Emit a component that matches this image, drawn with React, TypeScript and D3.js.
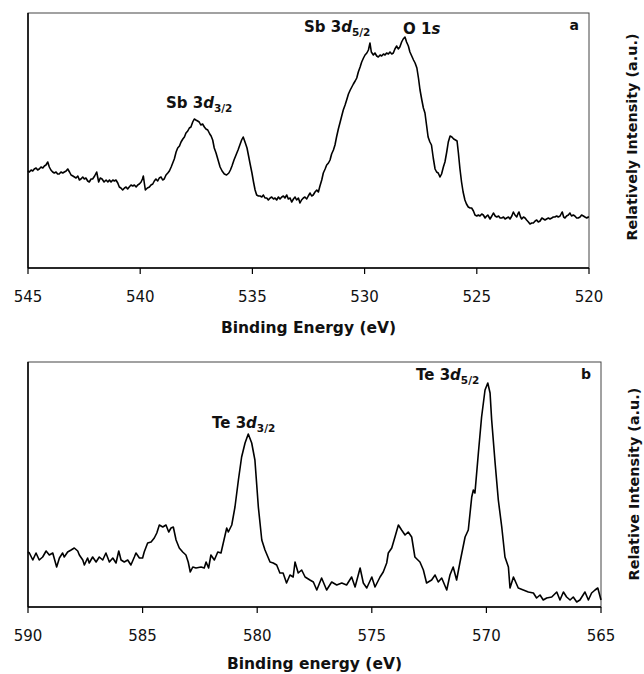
import React from "react";
import * as d3 from "d3";

// ---------- DATA ----------
// Panel a: Sb 3d / O 1s region (binding energy eV, intensity a.u.)
const sbSpectrum: [number, number][] = [
  [545.00, 97],[544.94, 96],[544.86, 98],[544.79, 97],[544.72, 99],[544.64, 100],[544.57, 98],[544.50, 99],[544.42, 101],[544.34, 100],[544.27, 102],[544.20, 103],[544.12, 106],[544.05, 101],[543.98, 98],[543.90, 96],[543.83, 95],[543.75, 96],[543.68, 94],[543.61, 94],[543.53, 96],[543.45, 95],[543.38, 96],[543.30, 97],[543.23, 99],[543.15, 96],[543.08, 93],[543.00, 92],[542.93, 91],[542.86, 90],[542.78, 92],[542.71, 88],[542.64, 89],[542.56, 91],[542.49, 89],[542.42, 90],[542.34, 87],[542.27, 86],[542.19, 89],[542.12, 89],[542.03, 92],[541.94, 96],[541.85, 86],[541.78, 90],[541.70, 89],[541.61, 86],[541.52, 88],[541.44, 86],[541.37, 88],[541.30, 86],[541.22, 88],[541.15, 87],[541.08, 88],[541.00, 85],[540.93, 81],[540.86, 80],[540.78, 78],[540.70, 80],[540.63, 81],[540.56, 79],[540.49, 81],[540.41, 83],[540.33, 82],[540.26, 83],[540.18, 81],[540.11, 83],[540.04, 84],[539.96, 86],[539.90, 89],[539.86, 92],[539.81, 84],[539.77, 78],[539.68, 80],[539.59, 81],[539.52, 83],[539.44, 84],[539.37, 87],[539.30, 89],[539.22, 87],[539.15, 90],[539.07, 91],[539.00, 88],[538.93, 89],[538.85, 93],[538.77, 95],[538.70, 97],[538.62, 101],[538.55, 105],[538.48, 109],[538.40, 116],[538.33, 120],[538.25, 122],[538.18, 126],[538.10, 129],[538.03, 131],[537.96, 135],[537.88, 137],[537.81, 140],[537.74, 141],[537.66, 146],[537.59, 149],[537.52, 148],[537.44, 147],[537.37, 146],[537.30, 143],[537.22, 144],[537.14, 141],[537.07, 139],[536.99, 138],[536.90, 134],[536.84, 132],[536.77, 128],[536.70, 120],[536.62, 115],[536.53, 108],[536.44, 101],[536.35, 97],[536.25, 94],[536.15, 93],[536.05, 95],[535.98, 98],[535.91, 102],[535.82, 108],[535.73, 113],[535.64, 118],[535.56, 123],[535.48, 128],[535.41, 131],[535.33, 126],[535.24, 120],[535.17, 112],[535.11, 105],[535.02, 95],[534.95, 86],[534.88, 78],[534.81, 73],[534.73, 72],[534.66, 72],[534.58, 71],[534.51, 73],[534.44, 70],[534.36, 70],[534.29, 68],[534.21, 70],[534.14, 71],[534.06, 69],[533.99, 70],[533.92, 68],[533.84, 71],[533.77, 69],[533.69, 71],[533.62, 72],[533.55, 70],[533.47, 73],[533.40, 69],[533.32, 70],[533.25, 66],[533.17, 69],[533.10, 71],[533.03, 68],[532.95, 70],[532.88, 65],[532.81, 68],[532.73, 70],[532.66, 71],[532.58, 69],[532.51, 72],[532.43, 75],[532.36, 72],[532.29, 73],[532.21, 76],[532.13, 78],[532.06, 76],[531.99, 82],[531.91, 88],[531.84, 95],[531.76, 99],[531.69, 103],[531.61, 105],[531.54, 108],[531.47, 114],[531.39, 118],[531.32, 123],[531.25, 131],[531.17, 139],[531.10, 145],[531.02, 152],[530.95, 158],[530.87, 163],[530.80, 168],[530.72, 174],[530.64, 178],[530.57, 181],[530.50, 184],[530.42, 187],[530.35, 190],[530.28, 196],[530.20, 201],[530.13, 206],[530.05, 210],[529.98, 213],[529.90, 215],[529.83, 218],[529.76, 225],[529.70, 216],[529.61, 213],[529.54, 215],[529.46, 212],[529.39, 211],[529.31, 213],[529.24, 212],[529.16, 214],[529.09, 213],[529.02, 215],[528.94, 214],[528.87, 216],[528.79, 214],[528.72, 215],[528.65, 219],[528.57, 222],[528.50, 219],[528.43, 221],[528.35, 226],[528.28, 229],[528.20, 231],[528.13, 226],[528.05, 222],[527.98, 216],[527.90, 212],[527.82, 208],[527.75, 205],[527.67, 200],[527.60, 190],[527.53, 178],[527.45, 168],[527.38, 160],[527.31, 155],[527.24, 143],[527.17, 131],[527.09, 126],[527.02, 123],[526.94, 110],[526.86, 99],[526.79, 96],[526.72, 95],[526.64, 91],[526.57, 94],[526.49, 101],[526.42, 106],[526.34, 116],[526.27, 126],[526.19, 132],[526.11, 131],[526.03, 129],[525.95, 128],[525.88, 127],[525.82, 115],[525.75, 99],[525.68, 86],[525.61, 76],[525.53, 68],[525.46, 64],[525.38, 61],[525.30, 60],[525.23, 60],[525.15, 57],[525.08, 53],
  [525.00, 52],[524.93, 53],[524.86, 52],[524.78, 54],[524.71, 53],[524.63, 50],[524.56, 52],[524.51, 53],[524.41, 49],[524.33, 52],[524.26, 55],[524.18, 52],[524.11, 51],[524.03, 52],[523.96, 50],[523.89, 50],[523.81, 51],[523.74, 49],[523.67, 50],[523.59, 51],[523.52, 49],[523.44, 52],[523.37, 56],[523.30, 53],[523.22, 51],[523.17, 54],[523.12, 56],[523.05, 51],[523.00, 49],[522.92, 51],[522.85, 50],[522.78, 48],[522.70, 46],[522.63, 44],[522.55, 45],[522.48, 45],[522.40, 47],[522.33, 48],[522.26, 46],[522.18, 47],[522.10, 50],[522.03, 49],[521.96, 48],[521.89, 49],[521.81, 50],[521.74, 49],[521.66, 50],[521.59, 51],[521.52, 51],[521.44, 52],[521.37, 51],[521.29, 52],[521.22, 55],[521.19, 56],[521.13, 51],[521.07, 50],[521.00, 52],[520.92, 53],[520.85, 55],[520.78, 52],[520.70, 53],[520.63, 52],[520.55, 50],[520.48, 50],[520.40, 51],[520.33, 53],[520.25, 52],[520.18, 51],[520.10, 50],[520.03, 51],[520.00, 51],
];

// Panel b: Te 3d region
const teSpectrum: [number, number][] = [
  [590.00, 55],[589.94, 54],[589.79, 47],[589.65, 54],[589.51, 47],[589.36, 50],[589.21, 56],[589.07, 52],[588.92, 54],[588.75, 40],[588.63, 49],[588.49, 54],[588.42, 50],[588.27, 55],[588.12, 57],[587.98, 59],[587.83, 56],[587.76, 52],[587.61, 47],[587.54, 42],[587.40, 49],[587.33, 44],[587.18, 50],[587.03, 45],[586.89, 50],[586.74, 47],[586.60, 54],[586.45, 45],[586.30, 49],[586.16, 44],[586.04, 56],[585.94, 47],[585.80, 45],[585.65, 47],[585.51, 42],[585.36, 50],[585.29, 54],[585.14, 49],[585.00, 49],[584.93, 55],[584.78, 64],[584.63, 65],[584.49, 69],[584.38, 74],[584.27, 82],[584.12, 80],[583.98, 82],[583.86, 75],[583.76, 79],[583.66, 80],[583.54, 67],[583.40, 59],[583.25, 55],[583.11, 52],[583.01, 45],[582.92, 35],[582.81, 40],[582.67, 39],[582.45, 40],[582.31, 39],[582.23, 45],[582.12, 39],[582.02, 52],[581.87, 47],[581.72, 55],[581.58, 54],[581.48, 64],[581.33, 79],[581.26, 75],[581.11, 82],[580.97, 100],[580.82, 127],[580.68, 150],[580.53, 164],[580.39, 173],[580.24, 164],[580.10, 147],[579.95, 100],[579.80, 67],[579.66, 57],[579.44, 45],[579.30, 44],[579.15, 42],[579.01, 34],[578.87, 34],[578.72, 24],[578.57, 32],[578.43, 30],[578.35, 45],[578.21, 34],[578.06, 37],[577.91, 30],[577.70, 27],[577.55, 25],[577.40, 17],[577.19, 29],[576.97, 17],[576.75, 25],[576.53, 22],[576.31, 24],[576.10, 22],[575.88, 30],[575.73, 20],[575.51, 39],[575.37, 24],[575.22, 19],[575.00, 30],[574.86, 20],[574.64, 30],[574.50, 35],[574.35, 44],[574.28, 54],[574.13, 59],[573.99, 70],[573.84, 82],[573.70, 77],[573.55, 72],[573.41, 75],[573.26, 70],[573.12, 50],[572.90, 45],[572.75, 37],[572.61, 24],[572.39, 27],[572.24, 32],[572.10, 25],[571.95, 29],[571.73, 17],[571.59, 32],[571.45, 40],[571.30, 27],[571.15, 45],[570.93, 70],[570.79, 77],[570.64, 110],[570.57, 117],[570.50, 114],[570.35, 154],[570.21, 190],[570.06, 217],[569.94, 224],[569.84, 214],[569.77, 187],[569.62, 144],[569.48, 107],[569.33, 80],[569.19, 50],[569.04, 40],[568.97, 19],[568.82, 30],[568.61, 19],[568.39, 17],[568.17, 15],[567.95, 14],[567.81, 9],[567.66, 12],[567.52, 7],[567.37, 9],[567.15, 10],[566.93, 15],[566.79, 7],[566.64, 15],[566.50, 10],[566.35, 7],[566.21, 10],[566.06, 5],[565.92, 7],[565.70, 15],[565.55, 7],[565.41, 14],[565.26, 17],[565.14, 19],[565.00, 7],
];

const sbTicks = [545, 540, 535, 530, 525, 520];
const teTicks = [590, 585, 580, 575, 570, 565];

const FONT = "'DejaVu Sans', Verdana, sans-serif";

type Label = { x: number; y: number; main: string; italic: string; sub?: string };

function PeakLabel({ x, y, main, italic, sub }: Label) {
  return (
    <text x={x} y={y} fontFamily={FONT} fontWeight="bold" fontSize={15} fill="#111">
      {main}
      <tspan fontStyle="italic">{italic}</tspan>
      {sub ? <tspan fontSize={10.5} dy={4}>{sub}</tspan> : null}
    </text>
  );
}

function Panel({
  data, domain, yMax, left, right, top, bottom, ticks, xTitle, yTitle, letter, labels, titleY, tickY, yTitleX, yTitleY,
}: {
  data: [number, number][]; domain: [number, number]; yMax: number; left: number; right: number; top: number; bottom: number;
  ticks: number[]; xTitle: string; yTitle: string; letter: string; labels: Label[]; titleY: number; tickY: number; yTitleX: number; yTitleY: number;
}) {
  const x = d3.scaleLinear().domain(domain).range([left, right]);
  const y = d3.scaleLinear().domain([0, yMax]).range([bottom, top]);
  const line = d3.line<[number, number]>().x((d) => x(d[0])).y((d) => y(d[1]));
  return (
    <g>
      <rect x={left} y={top} width={right - left} height={bottom - top} fill="none" stroke="#444" strokeWidth={1} />
      <line x1={left} x2={left} y1={top} y2={bottom} stroke="#000" strokeWidth={1.5} />
      <line x1={left} x2={right} y1={bottom} y2={bottom} stroke="#000" strokeWidth={1.5} />
      {ticks.map((t) => (
        <g key={t}>
          <line x1={x(t)} x2={x(t)} y1={bottom} y2={bottom + 6} stroke="#000" strokeWidth={1.2} />
          <text x={x(t)} y={tickY} textAnchor="middle" fontFamily={FONT} fontSize={15} fill="#111">{t}</text>
        </g>
      ))}
      <path d={line(data) || ""} fill="none" stroke="#000" strokeWidth={1.6} strokeLinejoin="round" />
      {labels.map((l, i) => <PeakLabel key={i} {...l} />)}
      <text x={right - 10} y={top + 17} textAnchor="end" fontFamily={FONT} fontWeight="bold" fontSize={14} fill="#111">{letter}</text>
      <text x={(left + right) / 2} y={titleY} textAnchor="middle" fontFamily={FONT} fontWeight="bold" fontSize={15.5} fill="#111">{xTitle}</text>
      <text transform={`translate(${yTitleX},${yTitleY}) rotate(-90)`} textAnchor="middle" fontFamily={FONT} fontWeight="bold" fontSize={14.4} fill="#111">{yTitle}</text>
    </g>
  );
}

export default function App() {
  return (
    <svg width={644} height={674} style={{ position: "absolute", left: 0, top: 0, background: "#fff" }}>
      <rect width={644} height={674} fill="#fff" />
      <Panel
        data={sbSpectrum} domain={[545, 520]} yMax={255} left={28} right={589} top={13} bottom={268}
        ticks={sbTicks} xTitle="Binding Energy (eV)" yTitle="Relatively Intensity (a.u.)" letter="a"
        titleY={333} tickY={302} yTitleX={637} yTitleY={137}
        labels={[
          { x: 166, y: 108, main: "Sb 3", italic: "d", sub: "3/2" },
          { x: 304, y: 32, main: "Sb 3", italic: "d", sub: "5/2" },
          { x: 403, y: 34, main: "O 1", italic: "s" },
        ]}
      />
      <Panel
        data={teSpectrum} domain={[590, 565]} yMax={245} left={28} right={601} top={362} bottom={607}
        ticks={teTicks} xTitle="Binding energy (eV)" yTitle="Relative Intensity (a.u.)" letter="b"
        titleY={669} tickY={641} yTitleX={639} yTitleY={484}
        labels={[
          { x: 212, y: 428, main: "Te 3", italic: "d", sub: "3/2" },
          { x: 416, y: 380, main: "Te 3", italic: "d", sub: "5/2" },
        ]}
      />
    </svg>
  );
}
